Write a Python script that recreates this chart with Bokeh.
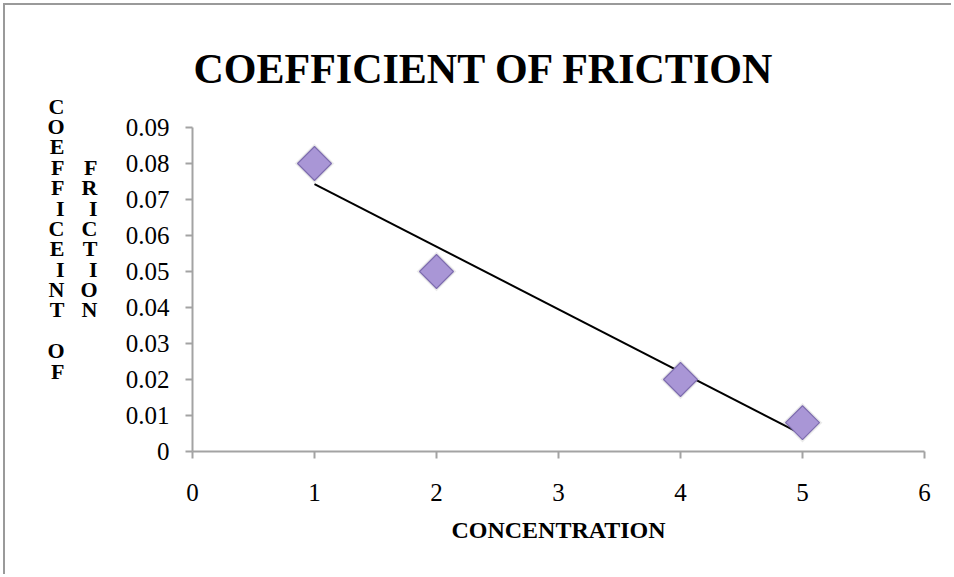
from bokeh.plotting import figure
from bokeh.models import Range1d, FixedTicker, LinearAxis
from bokeh.embed import file_html
from bokeh.resources import INLINE
import numpy as np

# ---- data ----
concentration = [1, 2, 4, 5]
friction = [0.08, 0.05, 0.02, 0.008]
x_ticks = [0, 1, 2, 3, 4, 5, 6]
y_ticks = [0, 0.01, 0.02, 0.03, 0.04, 0.05, 0.06, 0.07, 0.08, 0.09]
y_tick_labels = ["0", "0.01", "0.02", "0.03", "0.04", "0.05", "0.06", "0.07", "0.08", "0.09"]
title_text = "COEFFICIENT OF FRICTION"
x_label = "CONCENTRATION"
y_label_col1 = ["C", "O", "E", "F", "F", "I", "C", "E", "I", "N", "T", "", "O", "F"]
y_label_col2 = ["F", "R", "I", "C", "T", "I", "O", "N"]

# linear trend line (least squares fit of the series)
slope, intercept = np.polyfit(concentration, friction, 1)
trend_x = [min(concentration), max(concentration)]
trend_y = [slope * v + intercept for v in trend_x]

SERIF = "Liberation Serif"
AXIS_GRAY = "#a3a3a3"

p = figure(width=948, height=571, output_backend="svg", toolbar_location=None,
           x_range=Range1d(0, 6), y_range=Range1d(0, 0.09),
           min_border_left=187, min_border_right=29, min_border_top=122, min_border_bottom=125)
p.styles = {"margin-top": "3px", "margin-left": "3px",
            "border-top": "2px solid #9a9a9a", "border-left": "2px solid #9a9a9a",
            "border-right": "0px none", "border-bottom": "0px none", "outline": "none"}
p.outline_line_color = None
p.xgrid.grid_line_color = None
p.ygrid.grid_line_color = None
p.background_fill_color = "white"
p.border_fill_color = "white"

# title
p.title.text = title_text
p.title.text_font = SERIF
p.title.text_font_style = "bold"
p.title.text_font_size = "42px"
p.title.text_color = "black"
p.title.align = "left"
p.title.vertical_align = "bottom"
p.title.offset = 1
p.title.standoff = 71

# axes
for ax in (p.xaxis[0], p.yaxis[0]):
    ax.axis_line_color = AXIS_GRAY
    ax.axis_line_width = 2
    ax.major_tick_line_color = AXIS_GRAY
    ax.major_tick_line_width = 2
    ax.major_tick_in = 0
    ax.major_tick_out = 7
    ax.minor_tick_line_color = None
    ax.major_label_text_font = SERIF
    ax.major_label_text_font_size = "25px"
    ax.major_label_text_color = "black"

p.xaxis.ticker = FixedTicker(ticks=x_ticks)
p.yaxis.ticker = FixedTicker(ticks=y_ticks)
p.yaxis.major_label_overrides = {t: s for t, s in zip(y_ticks, y_tick_labels)}
p.yaxis.major_label_standoff = 16
p.xaxis.major_label_standoff = 25

p.xaxis.axis_label = x_label
p.xaxis.axis_label_text_font = SERIF
p.xaxis.axis_label_text_font_style = "bold"
p.xaxis.axis_label_text_font_size = "24px"
p.xaxis.axis_label_text_color = "black"
p.xaxis.axis_label_standoff = 13

# stacked y-axis title: two label-only axes, letters written top to bottom
pad = ["", "", "", "", ""]
def stacked_axis(letters, standoff):
    ax = LinearAxis(ticker=FixedTicker(ticks=[]))
    ax.axis_line_color = None
    ax.major_tick_in = 0
    ax.major_tick_out = 0
    ax.major_label_standoff = 0
    ax.major_label_text_font_size = "1px"
    ax.axis_label = "\n".join(letters + pad)
    ax.axis_label_orientation = "horizontal"
    ax.axis_label_text_font = SERIF
    ax.axis_label_text_font_style = "bold"
    ax.axis_label_text_color = "black"
    ax.axis_label_text_font_size = "22px"
    ax.axis_label_text_line_height = 0.815
    ax.axis_label_standoff = standoff
    return ax

p.add_layout(stacked_axis(y_label_col2, 25), "left")
p.add_layout(stacked_axis(y_label_col1, 13), "left")

# trend line
p.line(trend_x, trend_y, line_color="black", line_width=2)

# markers (halo + diamond)
p.scatter(concentration, friction, marker="square", angle=np.pi / 4, size=28,
          fill_color="#555555", fill_alpha=0.12, line_color=None)
p.scatter(concentration, friction, marker="square", angle=np.pi / 4, size=24,
          fill_color="#a996d6", line_color="#7d6cae", line_width=1.2)

open("out.html", "w").write(file_html(p, INLINE))
